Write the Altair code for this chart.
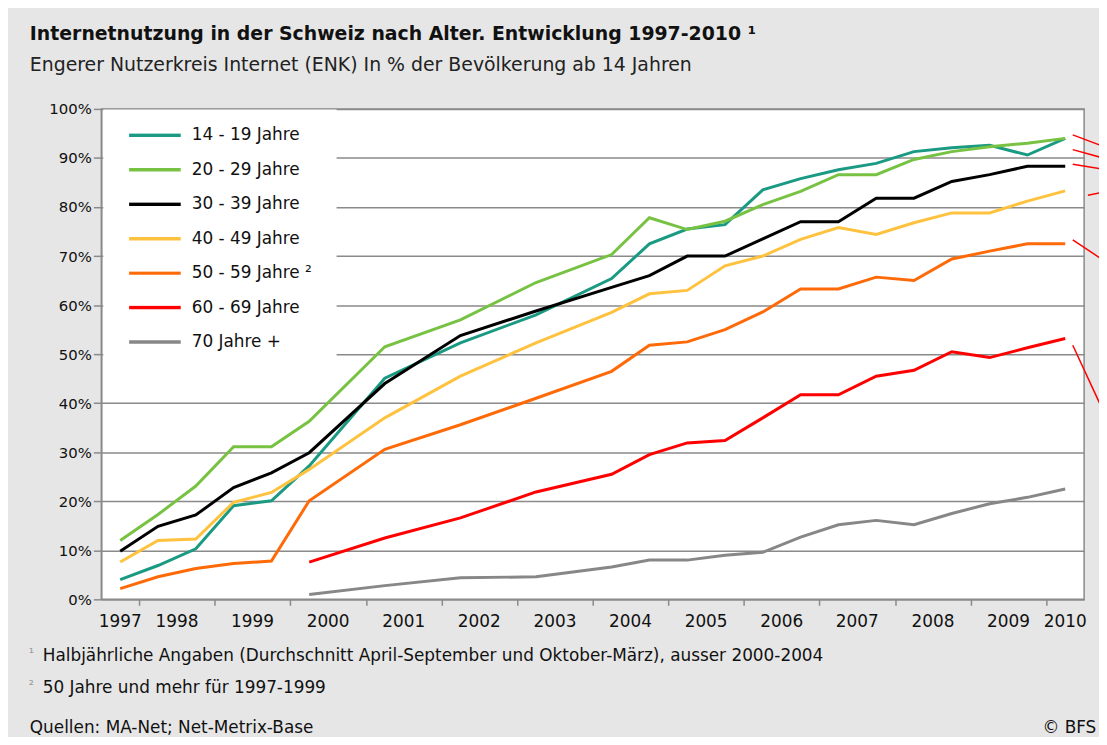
import altair as alt
import pandas as pd

# ---------------- data ----------------
periods = [1997.75, 1998.25, 1998.75, 1999.25, 1999.75, 2000.25, 2001.25, 2002.25,
           2003.25, 2004.25, 2004.75, 2005.25, 2005.75, 2006.25, 2006.75, 2007.25,
           2007.75, 2008.25, 2008.75, 2009.25, 2009.75, 2010.25]

groups = ["14 - 19 Jahre", "20 - 29 Jahre", "30 - 39 Jahre", "40 - 49 Jahre",
          "50 - 59 Jahre", "60 - 69 Jahre", "70 Jahre +"]
colors = ["#1a9a82", "#78c243", "#000000", "#ffc23f", "#ff6a08", "#ff0000", "#878787"]

s14_19 = [4.0, 6.9, 10.3, 19.1, 20.1, 27.2, 45.1, 52.3, 58.0, 65.4, 72.5, 75.5,
          76.4, 83.5, 85.8, 87.6, 88.9, 91.3, 92.1, 92.6, 90.6, 94.0]
s20_29 = [12.0, 17.3, 23.1, 31.1, 31.1, 36.3, 51.5, 57.0, 64.6, 70.3, 77.8, 75.4,
          77.1, 80.5, 83.2, 86.6, 86.6, 89.7, 91.3, 92.3, 93.0, 94.0]
s30_39 = [9.8, 14.9, 17.2, 22.8, 25.8, 29.9, 44.0, 53.8, 58.8, 63.6, 66.0, 70.0,
          70.0, 73.5, 77.0, 77.0, 81.8, 81.8, 85.2, 86.6, 88.3, 88.3]
s40_49 = [7.6, 12.0, 12.3, 19.8, 21.8, 26.5, 37.0, 45.5, 52.3, 58.5, 62.3, 63.0,
          68.0, 70.0, 73.4, 75.8, 74.4, 76.8, 78.8, 78.8, 81.2, 83.3]
s50_59 = [2.2, 4.6, 6.3, 7.3, 7.8, 20.1, 30.6, 35.6, 41.0, 46.5, 51.8, 52.5,
          55.0, 58.6, 63.3, 63.3, 65.7, 65.0, 69.4, 71.0, 72.5, 72.5]
s60_69 = [None, None, None, None, None, 7.6, 12.5, 16.6, 21.9, 25.5, 29.5, 31.9,
          32.4, 37.0, 41.7, 41.7, 45.5, 46.7, 50.5, 49.3, 51.3, 53.2]
s70p = [None, None, None, None, None, 1.0, 2.8, 4.4, 4.6, 6.6, 8.0, 8.0,
        9.0, 9.6, 12.7, 15.2, 16.1, 15.2, 17.5, 19.5, 20.8, 22.5]
series = [s14_19, s20_29, s30_39, s40_49, s50_59, s60_69, s70p]

year_labels = ["1997", "1998", "1999", "2000", "2001", "2002", "2003", "2004",
               "2005", "2006", "2007", "2008", "2009", "2010"]
tick_years = list(range(1998, 2011))
y_ticks = list(range(0, 101, 10))

title_text = "Internetnutzung in der Schweiz nach Alter. Entwicklung 1997-2010 \u00b9"
subtitle_text = "Engerer Nutzerkreis Internet (ENK) In % der Bev\u00f6lkerung ab 14 Jahren"
note1 = "Halbj\u00e4hrliche Angaben (Durchschnitt April-September und Oktober-M\u00e4rz), ausser 2000-2004"
note2 = "50 Jahre und mehr f\u00fcr 1997-1999"
source_text = "Quellen: MA-Net; Net-Metrix-Base"
copyright_text = "\u00a9 BFS"

# pointer lines at the right edge (start/end in year, percent)
ptr_x1 = [2010.35, 2010.35, 2010.35, 2010.55, 2010.35, 2010.35]
ptr_y1 = [94.7, 91.7, 88.7, 82.4, 73.3, 51.8]
ptr_x2 = [2010.75, 2010.75, 2010.75, 2010.75, 2010.75, 2010.75]
ptr_y2 = [92.4, 90.0, 87.7, 83.0, 69.2, 38.5]

# ---------------- tables ----------------
rows = []
for g, vals in zip(groups, series):
    for p, v in zip(periods, vals):
        if v is not None:
            rows.append({"Zeit": p, "Anteil": v, "Alter": g})
df = pd.DataFrame(rows)

x_min, x_max = 1997.5, 2010.5
lab_pos = [(max(int(l), x_min) + min(int(l) + 1, x_max)) / 2 for l in year_labels]
df_lab = pd.DataFrame({"pos": lab_pos, "label": year_labels})
df_ptr = pd.DataFrame({"x": ptr_x1, "y": ptr_y1, "x2": ptr_x2, "y2": ptr_y2})

W, H = 990, 494
FONT = "DejaVu Sans"

xscale = alt.Scale(domain=[x_min, x_max], nice=False, zero=False)
yscale = alt.Scale(domain=[0, 100], nice=False)

lines = alt.Chart(df).mark_line(strokeWidth=3).encode(
    x=alt.X("Zeit:Q", scale=xscale,
            axis=alt.Axis(values=tick_years, labels=False, title=None, grid=False,
                          tickSize=6, tickColor="#8a8a8a", domainColor="#8a8a8a",
                          tickWidth=1.5, domainWidth=1.5)),
    y=alt.Y("Anteil:Q", scale=yscale,
            axis=alt.Axis(values=y_ticks, labelExpr="datum.value + '%'", title=None,
                          tickSize=8, tickColor="#8a8a8a", domainColor="#8a8a8a",
                          tickWidth=1.5, domainWidth=1.5,
                          gridColor="#8a8a8a", gridWidth=1.5,
                          labelFont=FONT, labelFontSize=15, labelColor="#111",
                          labelPadding=2)),
    color=alt.Color("Alter:N",
                    scale=alt.Scale(domain=groups, range=colors),
                    legend=alt.Legend(
                        title=None, orient="none", legendX=2, legendY=0.6,
                        symbolType="stroke", symbolSize=2704, symbolStrokeWidth=3.5,
                        clipHeight=4, rowPadding=17.7, labelOffset=9,
                        labelFont=FONT, labelFontSize=17, labelColor="#111",
                        labelExpr="datum.label == '50 - 59 Jahre' ? datum.label + ' \u00b2' : datum.label",
                        fillColor="white", padding=24, labelLimit=300)),
    order=alt.Order("Zeit:Q"),
)

xlabels = alt.Chart(df_lab).mark_text(font=FONT, fontSize=17, color="#111",
                                       baseline="alphabetic", align="center").encode(
    x=alt.X("pos:Q", scale=xscale), y=alt.value(H + 28), text="label:N")

ptr = alt.Chart(df_ptr).mark_rule(color="#ff0000", strokeWidth=1.5).encode(
    x=alt.X("x:Q", scale=xscale), x2="x2:Q",
    y=alt.Y("y:Q", scale=yscale), y2="y2:Q")


def txt(t, x, y, size=17, color="#111", align="left"):
    return alt.Chart(pd.DataFrame({"t": [t]})).mark_text(
        font=FONT, fontSize=size, color=color, align=align, baseline="alphabetic"
    ).encode(x=alt.value(x), y=alt.value(y), text="t:N")


notes = (txt("\u00b9", -73, H + 58, size=13, color="#999") +
         txt(note1, -59, H + 62) +
         txt("\u00b2", -73, H + 90, size=13, color="#999") +
         txt(note2, -59, H + 94) +
         txt(source_text, -72, H + 135) +
         txt(copyright_text, 948, H + 135))

chart = alt.layer(lines, xlabels, ptr, notes).properties(
    width=W, height=H,
    title=alt.TitleParams(text=title_text, subtitle=subtitle_text, anchor="start",
                          frame="group", dx=-72, offset=27,
                          font=FONT, fontSize=19, fontWeight="bold", color="#111",
                          subtitleFont=FONT, subtitleFontSize=19, subtitleColor="#222",
                          subtitlePadding=12),
    autosize=alt.AutoSizeParams(type="none"),
    padding={"left": 94, "top": 99, "right": 15, "bottom": 136},
    background="#e6e6e6",
).configure_view(stroke="#8a8a8a", strokeWidth=1.5, fill="white")

chart.save("out.html", embed_options={"renderer": "svg", "actions": False})
